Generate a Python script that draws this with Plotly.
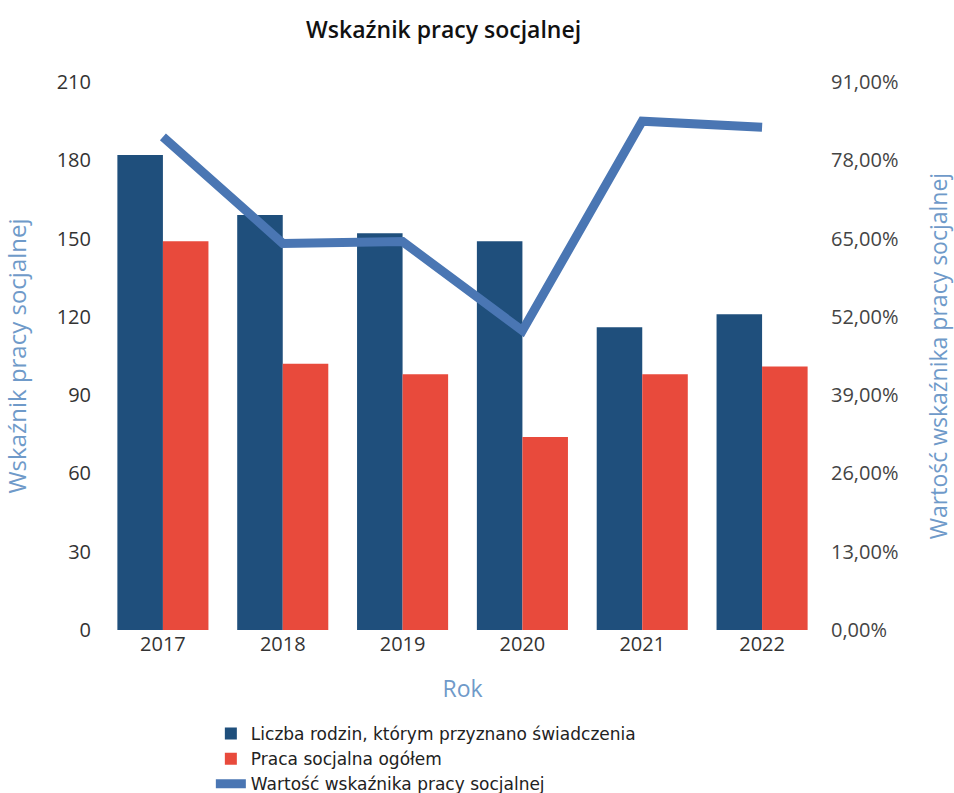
import plotly.graph_objects as go

years = ["2017", "2018", "2019", "2020", "2021", "2022"]
rodziny = [182, 159, 152, 149, 116, 121]
praca = [149, 102, 98, 74, 98, 101]
wskaznik = [81.9, 64.2, 64.5, 49.7, 84.5, 83.5]

left_ticks = [0, 30, 60, 90, 120, 150, 180, 210]
right_ticks = [0, 13, 26, 39, 52, 65, 78, 91]
right_labels = ["0,00%", "13,00%", "26,00%", "39,00%", "52,00%", "65,00%", "78,00%", "91,00%"]

title_color = "#6f9ac9"

fig = go.Figure()
fig.add_trace(go.Bar(x=years, y=rodziny, name="Liczba rodzin, którym przyznano świadczenia",
                     marker=dict(color="#1f4f7c", line=dict(width=0))))
fig.add_trace(go.Bar(x=years, y=praca, name="Praca socjalna ogółem",
                     marker=dict(color="#e84a3c", line=dict(width=0))))
fig.add_trace(go.Scatter(x=years, y=wskaznik, name="Wartość wskaźnika pracy socjalnej",
                         yaxis="y2", mode="lines",
                         line=dict(color="#4a76b3", width=9)))

fig.update_layout(
    width=954, height=793,
    paper_bgcolor="white", plot_bgcolor="white",
    font=dict(family="Open Sans", size=20, color="#333"),
    title=dict(text="Wskaźnik pracy socjalnej", x=0.465, xanchor="center",
               y=1 - 30 / 793, yanchor="middle",
               font=dict(size=23, color="#111", weight=600)),
    margin=dict(l=103, r=132, t=82, b=163, autoexpand=False),
    barmode="group", bargap=0.24, bargroupgap=0,
    xaxis=dict(showgrid=False, showline=False, ticks="", automargin=False,
               title=dict(text="Rok", font=dict(size=23, color=title_color), standoff=24),
               tickfont=dict(size=20, color="#333")),
    yaxis=dict(range=[0, 210], tickvals=left_ticks, showgrid=False, zeroline=False,
               automargin=False, ticklabelstandoff=11,
               title=dict(text="Wskaźnik pracy socjalnej", font=dict(size=24, color=title_color), standoff=28),
               tickfont=dict(size=20, color="#333")),
    yaxis2=dict(range=[0, 91], tickvals=right_ticks, ticktext=right_labels,
                overlaying="y", side="right", showgrid=False, zeroline=False,
                automargin=False, ticklabelstandoff=8,
                title=dict(text="Wartość wskaźnika pracy socjalnej", font=dict(size=23, color=title_color), standoff=34),
                tickfont=dict(size=20, color="#444")),
    legend=dict(orientation="v", x=0.150, xanchor="left", y=-0.157, yanchor="top",
                font=dict(family="DejaVu Sans", size=17, color="#222"), tracegroupgap=0, itemwidth=30),
)

fig.write_html("out.html", config={"displayModeBar": False},
               post_script="document.body.style.margin='0';")
